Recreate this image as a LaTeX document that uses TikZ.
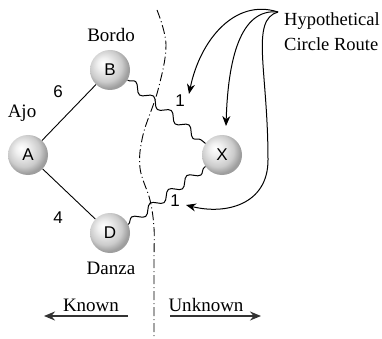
\documentclass[tikz,border=0pt]{standalone}
\usepackage{fontspec}
\setmainfont{Liberation Serif}
\setsansfont{Liberation Sans}
\usetikzlibrary{arrows.meta,decorations.pathmorphing}

\pgfdeclareradialshading{orb}{\pgfqpoint{-9bp}{9bp}}{color(0bp)=(white); color(8bp)=(white!94!black); color(20bp)=(white!80!black); color(27bp)=(white!62!black); color(50bp)=(white!58!black)}

\begin{document}
\begin{tikzpicture}[
    x=1pt, y=-1pt,
    city/.style={circle, shading=orb, minimum size=40pt, inner sep=0pt,
                 font=\sffamily\fontsize{17}{17}\selectfont},
    place/.style={font=\fontsize{19}{19}\selectfont},
    weight/.style={font=\sffamily\fontsize{17}{17}\selectfont},
    road/.style={line width=0.9pt},
    wavy/.style={line width=1pt, decorate,
                 decoration={snake, amplitude=4pt, segment length=23pt}},
    hint/.style={-{Stealth[length=10pt, width=8pt]}, line width=1pt},
    side/.style={-{Stealth[length=11pt, width=9pt]}, line width=1.6pt, black!80},
    border/.style={line width=0.9pt, dash pattern=on 9pt off 3pt on 1pt off 3pt}
]
\useasboundingbox (0,0) rectangle (382,339);

% boundary between known and unknown
\draw[border] plot[smooth, tension=0.6] coordinates
    {(157,10) (166,45) (158,90) (143,135) (140,168) (150,200) (154,228) (154,260) (154,337)};

% cities
\node[city] (A) at (28,155) {A};
\node[city] (B) at (110,70) {B};
\node[city] (D) at (110,233) {D};
\node[city] (X) at (222,155) {X};

\node[place] (ajo) at (22,113) {Ajo};
\node[place] (bordo) at (111,35) {Bordo};
\node[place] (danza) at (111,268) {Danza};

% roads
\draw[road] (A) -- (B);
\draw[road] (A) -- (D);
\draw[wavy] (B.-30) -- (X.145);
\draw[wavy] (D.25) -- (X.-145);

\node[weight] (wab) at (58,92) {6};
\node[weight] (wad) at (58,218) {4};
\node[weight] (wbx) at (180,101) {1};
\node[weight] (wdx) at (175,201) {1};

% hypothetical route
\node[anchor=west, align=left, inner xsep=1pt, font=\fontsize{18.5}{25}\selectfont] (hypo) at (283,32)
    {Hypothetical\\Circle Route};
\coordinate (h) at (278,12);
\draw[hint] (h) .. controls (235,-2) and (200,40) .. (189,94);
\draw[hint] (h) .. controls (240,8) and (228,60) .. (226,126);
\draw[hint] (h) .. controls (250,20) and (268,70) .. (268,160)
    .. controls (268,205) and (225,215) .. (186,205);

% sides
\node[place] (known) at (91,305) {Known};
\node[place] (unknown) at (206,305) {Unknown};
\coordinate (kr) at (128,316);
\coordinate (kl) at (44,316);
\coordinate (ul) at (170,316);
\coordinate (ur) at (261,316);
\draw[side] (kr) -- (kl);
\draw[side] (ul) -- (ur);
\end{tikzpicture}
\end{document}
